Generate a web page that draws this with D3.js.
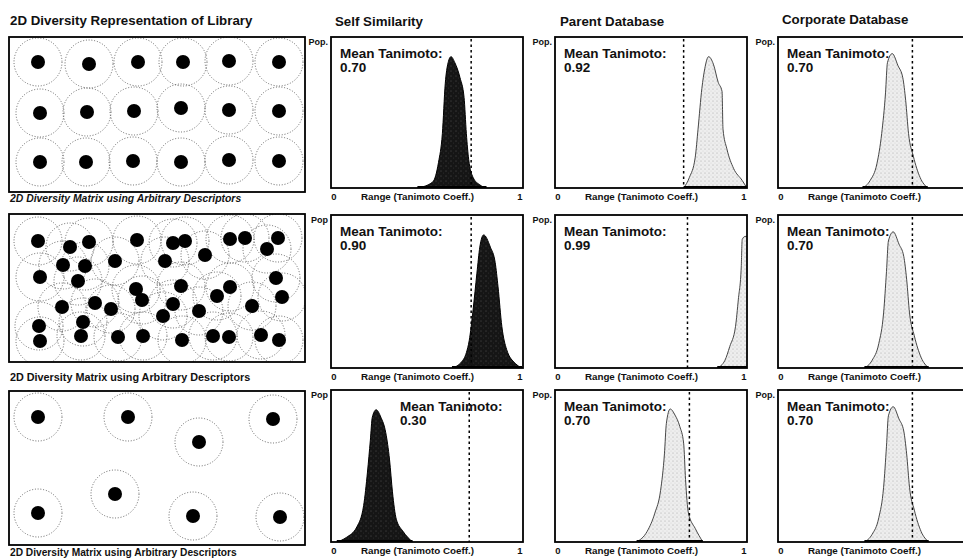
<!DOCTYPE html>
<html><head><meta charset="utf-8">
<script src="https://cdn.jsdelivr.net/npm/d3@7"></script>
<style>
body{margin:0;background:#fff}
text{font-family:"Liberation Sans",Arial,sans-serif;font-weight:bold;fill:#111}
</style>
</head><body><svg id="c" width="963" height="559"></svg>
<script>
// ---------------- DATA ----------------
const libraryTitle = "2D Diversity Representation of Library";
const libraryCaption = "2D Diversity Matrix using Arbitrary Descriptors";
const columnTitles = ["Self Similarity", "Parent Database", "Corporate Database"];
const axisLabel = "Range (Tanimoto Coeff.)";
const axisTicks = ["0", "1"];
const popLabel = "Pop.";
const meanLabel = "Mean Tanimoto:";

// mean Tanimoto per row (library 1..3)
const meanSelf = [0.70, 0.90, 0.30];
const meanParent = [0.92, 0.99, 0.70];
const meanCorporate = [0.70, 0.70, 0.70];

// dashed reference line position (Tanimoto)
const cutSelf = [0.73, 0.73, 0.72];
const cutParent = [0.67, 0.69, 0.70];
const cutCorporate = [0.70, 0.70, 0.70];

// distributions: [Tanimoto, relative population]
const selfCurve1 = [[0.45,0],[0.53,0.04],[0.56,0.17],[0.58,0.36],[0.595,0.69],[0.61,0.83],[0.625,0.87],[0.645,0.83],[0.672,0.73],[0.693,0.60],[0.705,0.36],[0.717,0.19],[0.74,0.07],[0.776,0.02],[0.81,0]];
const selfCurve2 = [[0.63,0],[0.68,0.04],[0.705,0.10],[0.72,0.18],[0.74,0.38],[0.76,0.62],[0.775,0.79],[0.795,0.87],[0.83,0.79],[0.855,0.69],[0.87,0.53],[0.89,0.27],[0.915,0.12],[0.96,0.03],[0.995,0]];
const selfCurve3 = [[0.03,0],[0.08,0.03],[0.135,0.10],[0.17,0.24],[0.19,0.46],[0.205,0.67],[0.215,0.82],[0.235,0.87],[0.26,0.82],[0.285,0.72],[0.305,0.54],[0.32,0.33],[0.34,0.15],[0.375,0.07],[0.425,0]];
const parentCurve1 = [[0.67,0],[0.70,0.07],[0.73,0.20],[0.745,0.39],[0.765,0.66],[0.78,0.79],[0.80,0.87],[0.825,0.82],[0.85,0.70],[0.87,0.64],[0.875,0.39],[0.895,0.26],[0.93,0.13],[0.975,0.05],[1.0,0]];
const parentCurve2 = [[0.845,0],[0.885,0.05],[0.91,0.14],[0.94,0.27],[0.955,0.45],[0.97,0.66],[0.975,0.84],[0.99,0.86],[1.0,0.86]];
const parentCurve3 = [[0.425,0],[0.48,0.07],[0.52,0.19],[0.55,0.34],[0.57,0.58],[0.58,0.78],[0.60,0.875],[0.625,0.835],[0.65,0.76],[0.67,0.65],[0.68,0.41],[0.695,0.19],[0.73,0.09],[0.77,0]];
const corporateCurve1 = [[0.44,0],[0.48,0.05],[0.515,0.16],[0.54,0.36],[0.56,0.63],[0.57,0.83],[0.595,0.89],[0.625,0.81],[0.65,0.73],[0.665,0.58],[0.68,0.36],[0.705,0.21],[0.74,0.07],[0.78,0]];
const corporateCurve2 = [[0.45,0],[0.49,0.05],[0.525,0.16],[0.55,0.36],[0.565,0.63],[0.575,0.83],[0.60,0.89],[0.63,0.81],[0.655,0.73],[0.67,0.58],[0.685,0.36],[0.71,0.21],[0.745,0.07],[0.785,0]];
const corporateCurve3 = [[0.45,0],[0.49,0.05],[0.525,0.16],[0.55,0.36],[0.565,0.63],[0.575,0.83],[0.60,0.89],[0.63,0.81],[0.655,0.73],[0.67,0.58],[0.685,0.36],[0.71,0.21],[0.745,0.07],[0.785,0]];

// library compounds in arbitrary 2D descriptor space [d1, d2]
const libraryPoints1 = [[29,25],[80,27],[129,25],[174,25],[220,24],[270,25],[31,76],[78,75],[125,74],[172,71],[220,73],[270,74],[31,125],[77,125],[124,124],[172,125],[220,123],[270,124]];
const libraryPoints2 = [[29,27],[61,33],[80,28],[128,26],[164,29],[176,27],[221,25],[236,24],[258,35],[269,24],[196,41],[156,47],[106,47],[54,51],[76,52],[31,63],[69,67],[127,75],[133,86],[172,72],[208,82],[221,73],[267,64],[273,83],[53,93],[86,89],[102,95],[164,90],[190,97],[154,102],[243,92],[74,108],[30,112],[31,127],[72,122],[109,123],[134,122],[173,126],[204,122],[220,123],[252,121],[270,126]];
const libraryPoints3 = [[29,26],[119,26],[190,51],[264,28],[106,103],[29,122],[184,125],[271,126]];

// ---------------- LAYOUT ----------------
const W = 963;
const svg = d3.select("#c");
const defs = svg.append("defs");

// stipple patterns
const pd = defs.append("pattern").attr("id","dark").attr("patternUnits","userSpaceOnUse").attr("width",5).attr("height",5);
pd.append("rect").attr("width",5).attr("height",5).attr("fill","#151515");
pd.append("circle").attr("cx",1).attr("cy",1).attr("r",0.45).attr("fill","#888");
pd.append("circle").attr("cx",3.5).attr("cy",3).attr("r",0.35).attr("fill","#666");
const pl = defs.append("pattern").attr("id","light").attr("patternUnits","userSpaceOnUse").attr("width",4).attr("height",4);
pl.append("rect").attr("width",4).attr("height",4).attr("fill","#eeeeee");
pl.append("circle").attr("cx",1).attr("cy",1).attr("r",0.5).attr("fill","#9a9a9a");
pl.append("circle").attr("cx",3).attr("cy",3).attr("r",0.4).attr("fill","#bbbbbb");

const libLeft = 9, libRight = 305;
const libTops = [37, 214, 391], libBottoms = [192, 362, 545];
const capY = [202, 381, 556];
const capSize = [10.4, 10.8, 10.2];
const histLefts = [331, 555, 778], histW = 192;
const histTops = [37, 215, 390], histBottoms = [188, 368, 542];

// titles
svg.append("text").attr("x",10).attr("y",25).attr("font-size",13.3).text(libraryTitle);
const titleX = [335, 560, 782], titleY = [26, 26, 24];
columnTitles.forEach((t,i)=>svg.append("text").attr("x",titleX[i]).attr("y",titleY[i]).attr("font-size",13.3).text(t));

// library panels
const libs = [libraryPoints1, libraryPoints2, libraryPoints3];
libs.forEach((pts, r) => {
  const top = libTops[r], bot = libBottoms[r];
  const x = d3.scaleLinear().domain([0, 296]).range([libLeft, libRight]);
  const y = d3.scaleLinear().domain([0, bot - top]).range([top, bot]);
  const cid = "libclip" + r;
  defs.append("clipPath").attr("id", cid).append("rect")
    .attr("x", libLeft).attr("y", top).attr("width", libRight - libLeft).attr("height", bot - top);
  const g = svg.append("g").attr("clip-path", `url(#${cid})`);
  g.selectAll("circle.halo").data(pts).join("circle").attr("class","halo")
    .attr("cx", d => x(d[0])).attr("cy", d => y(d[1])).attr("r", 24)
    .attr("fill","none").attr("stroke","#555").attr("stroke-width",0.9).attr("stroke-dasharray","1,1.8");
  g.selectAll("circle.dot").data(pts).join("circle").attr("class","dot")
    .attr("cx", d => x(d[0])).attr("cy", d => y(d[1])).attr("r", 7).attr("fill","#000");
  svg.append("rect").attr("x", libLeft).attr("y", top).attr("width", libRight - libLeft).attr("height", bot - top)
    .attr("fill","none").attr("stroke","#000").attr("stroke-width",1.8);
  svg.append("text").attr("x", 10).attr("y", capY[r]).attr("font-size", capSize[r])
    .attr("font-style", r === 0 ? "italic" : "normal").text(libraryCaption);
});

// histogram panels
const curves = [[selfCurve1, parentCurve1, corporateCurve1],[selfCurve2, parentCurve2, corporateCurve2],[selfCurve3, parentCurve3, corporateCurve3]];
const means = [meanSelf, meanParent, meanCorporate];
const cuts = [cutSelf, cutParent, cutCorporate];

for (let r = 0; r < 3; r++) {
  for (let c = 0; c < 3; c++) {
    const left = histLefts[c], top = histTops[r], bot = histBottoms[r];
    const x = d3.scaleLinear().domain([0, 1]).range([left, left + histW]);
    const y = d3.scaleLinear().domain([0, 1]).range([bot, top]);
    const cid = `hclip${r}${c}`;
    defs.append("clipPath").attr("id", cid).append("rect")
      .attr("x", left).attr("y", top).attr("width", histW).attr("height", bot - top);
    const g = svg.append("g").attr("clip-path", `url(#${cid})`);
    const area = d3.area().x(d => x(d[0])).y0(y(0)).y1(d => y(d[1])).curve(d3.curveMonotoneX);
    const line = d3.line().x(d => x(d[0])).y(d => y(d[1])).curve(d3.curveMonotoneX);
    const data = curves[r][c];
    g.append("path").datum(data).attr("d", area).attr("fill", c === 0 ? "url(#dark)" : "url(#light)");
    g.append("path").datum(data).attr("d", line).attr("fill","none")
      .attr("stroke", c === 0 ? "#000" : "#333").attr("stroke-width", c === 0 ? 1 : 0.9);
    g.append("line").attr("x1", x(data[0][0])).attr("x2", x(data[data.length-1][0]))
      .attr("y1", y(0) - 1).attr("y2", y(0) - 1).attr("stroke","#000").attr("stroke-width",2);
    g.append("line").attr("x1", x(cuts[c][r])).attr("x2", x(cuts[c][r])).attr("y1", top + 2).attr("y2", bot)
      .attr("stroke","#000").attr("stroke-width",1.5).attr("stroke-dasharray","2.5,3");
    svg.append("rect").attr("x", left).attr("y", top).attr("width", histW).attr("height", bot - top)
      .attr("fill","none").attr("stroke","#000").attr("stroke-width",1.8);
    const m = means[c][r];
    const tx = m < 0.5 ? x(0.36) : left + 9;
    svg.append("text").attr("x", tx).attr("y", top + 21).attr("font-size", 13.5).text(meanLabel);
    svg.append("text").attr("x", tx).attr("y", top + 35).attr("font-size", 13.5).text(m.toFixed(2));
    svg.append("text").attr("x", left - 3).attr("y", top + 8).attr("font-size", 9)
      .attr("text-anchor","end").text(c === 0 && r > 0 ? "Pop" : popLabel);
    const ly = bot + 12;
    svg.append("text").attr("x", x(0) + 3).attr("y", ly).attr("font-size", 9.5).attr("text-anchor","middle").text(axisTicks[0]);
    if (x(1) + 2 < W) {
      svg.append("text").attr("x", x(1) - 3).attr("y", ly).attr("font-size", 9.5).attr("text-anchor","middle").text(axisTicks[1]);
    }
    svg.append("text").attr("x", x(0.45)).attr("y", ly).attr("font-size", 9.8).attr("text-anchor","middle").text(axisLabel);
  }
}
</script></body></html>
